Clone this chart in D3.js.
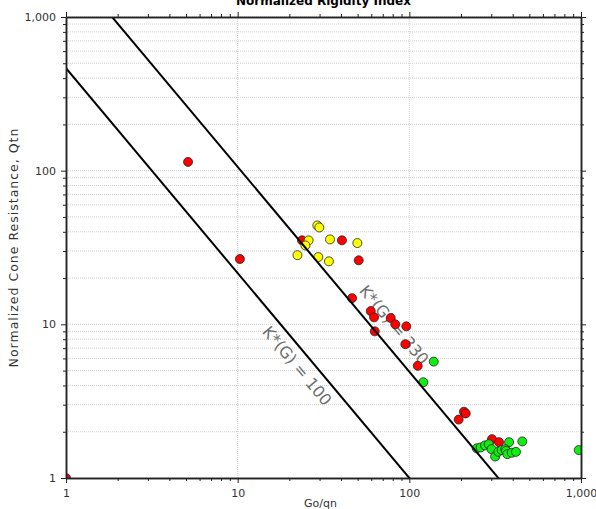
<!DOCTYPE html>
<html>
<head>
<meta charset="utf-8">
<script src="https://cdn.jsdelivr.net/npm/d3@7"></script>
<style>
  body { margin: 0; background: #fff; }
  svg { display: block; font-family: "DejaVu Sans", Verdana, sans-serif; }
</style>
</head>
<body>
<div id="chart"></div>
<script>
// values (Go/qn, Qtn)
const redX = [5.14, 10.3, 1.0, 23.7, 40.5, 50.7, 46.4, 59.6, 62.3, 77.9, 82.8, 96.0, 62.9, 94.8, 111.9, 208, 213, 193.8, 303, 333];
const redY = [114, 26.6, 1.0, 35.2, 35.2, 26.1, 14.8, 12.2, 11.1, 11.0, 10.0, 9.7, 9.0, 7.43, 5.37, 2.7, 2.63, 2.40, 1.79, 1.71];
const yellowX = [29.1, 29.9, 25.9, 24.8, 34.5, 49.8, 22.3, 29.5, 34.0];
const yellowY = [44.0, 42.7, 35.2, 32.6, 35.7, 33.8, 28.2, 27.4, 25.7];
const greenX = [138.7, 120.6, 381, 455, 970, 247, 260, 276, 290, 301, 316, 330, 345, 362, 366, 372, 395, 418];
const greenY = [5.72, 4.2, 1.71, 1.73, 1.52, 1.56, 1.58, 1.63, 1.66, 1.54, 1.38, 1.48, 1.52, 1.54, 1.50, 1.43, 1.46, 1.48];

// K*(G) = (Go/qn) * Qtn^0.75
const kValues = [100, 330];
const kLabelX = [22.2, 81.4];
const kLabelY = [5.37, 9.93];

const majorTicks = [1, 10, 100, 1000];

const width = 596, height = 509;
const mLeft = 66, mRight = 581, mTop = 17, mBottom = 478;

const svg = d3.select('#chart').append('svg')
  .attr('width', width)
  .attr('height', height);

const x = d3.scaleLog().domain([1, 1000]).range([mLeft, mRight]);
const y = d3.scaleLog().domain([1, 1000]).range([mBottom, mTop]);
const fmt = d3.format(',');
const minorTicks = y.ticks().filter(d => majorTicks.indexOf(d) < 0);

svg.append('defs').append('clipPath').attr('id', 'plot')
  .append('rect')
  .attr('x', mLeft).attr('y', mTop)
  .attr('width', mRight - mLeft).attr('height', mBottom - mTop);

// grid: horizontal at every tick, vertical only at decades
svg.append('g').selectAll('line')
  .data(y.ticks())
  .enter().append('line')
  .attr('x1', mLeft).attr('x2', mRight)
  .attr('y1', d => y(d)).attr('y2', d => y(d))
  .attr('stroke', '#d0d0d0')
  .attr('stroke-dasharray', '1,1');

svg.append('g').selectAll('line')
  .data(majorTicks.slice(1, -1))
  .enter().append('line')
  .attr('x1', d => x(d)).attr('x2', d => x(d))
  .attr('y1', mTop).attr('y2', mBottom)
  .attr('stroke', '#d0d0d0')
  .attr('stroke-dasharray', '1,1');

// line labels
const slope = (4 / 3) * (y(1) - y(10)) / (x(10) - x(1));
const angle = Math.atan(slope) * 180 / Math.PI;
svg.append('g').selectAll('text')
  .data(kValues)
  .enter().append('text')
  .attr('transform', (d, i) => `translate(${x(kLabelX[i])},${y(kLabelY[i])}) rotate(${angle})`)
  .attr('text-anchor', 'middle')
  .attr('dy', '0.35em')
  .style('font-size', '16px')
  .style('fill', '#6e6e6e')
  .text(d => `K*(G) = ${d}`);

// points
const pts = svg.append('g').attr('clip-path', 'url(#plot)');
function drawPoints(xs, ys, colour) {
  pts.append('g').selectAll('circle')
    .data(xs)
    .enter().append('circle')
    .attr('cx', d => x(d))
    .attr('cy', (d, i) => y(ys[i]))
    .attr('r', 4.5)
    .attr('fill', colour)
    .attr('stroke', '#222')
    .attr('stroke-width', 0.8);
}
drawPoints(redX, redY, '#ff0000');
drawPoints(yellowX, yellowY, '#ffff00');
drawPoints(greenX, greenY, '#11ee11');

// K*(G) lines
const line = d3.line().x(d => x(d[0])).y(d => y(d[1]));
svg.append('g').attr('clip-path', 'url(#plot)')
  .selectAll('path')
  .data(kValues)
  .enter().append('path')
  .attr('d', k => line([1, 1000].map(g => [g, Math.pow(k / g, 4 / 3)])))
  .attr('fill', 'none')
  .attr('stroke', '#000')
  .attr('stroke-width', 2);

// axes
function styleAxis(g) {
  g.select('.domain').attr('stroke', '#222').attr('stroke-width', 1.5);
  g.selectAll('.tick line').attr('stroke', '#222');
  g.selectAll('.tick text').style('font-size', '11px').style('fill', '#333')
    .style('font-family', '"DejaVu Sans", Verdana, sans-serif');
}

svg.append('g').attr('transform', `translate(${mLeft},0)`)
  .call(d3.axisLeft(y).tickValues(majorTicks).tickFormat(fmt).tickSize(5).tickPadding(5).tickSizeOuter(0))
  .call(styleAxis);
svg.append('g').attr('transform', `translate(${mLeft},0)`)
  .call(d3.axisLeft(y).tickValues(minorTicks).tickFormat('').tickSize(3).tickSizeOuter(0))
  .call(styleAxis);

svg.append('g').attr('transform', `translate(${mRight},0)`)
  .call(d3.axisRight(y).tickValues(majorTicks).tickFormat('').tickSize(5).tickSizeOuter(0))
  .call(styleAxis);
svg.append('g').attr('transform', `translate(${mRight},0)`)
  .call(d3.axisRight(y).tickValues(minorTicks).tickFormat('').tickSize(3).tickSizeOuter(0))
  .call(styleAxis);

svg.append('g').attr('transform', `translate(0,${mBottom})`)
  .call(d3.axisBottom(x).tickValues(majorTicks).tickFormat(fmt).tickSize(5).tickPadding(6).tickSizeOuter(0))
  .call(styleAxis);
svg.append('g').attr('transform', `translate(0,${mBottom})`)
  .call(d3.axisBottom(x).tickValues(minorTicks).tickFormat('').tickSize(3).tickSizeOuter(0))
  .call(styleAxis);

svg.append('g').attr('transform', `translate(0,${mTop})`)
  .call(d3.axisTop(x).tickValues(majorTicks).tickFormat('').tickSize(5).tickSizeOuter(0))
  .call(styleAxis);
svg.append('g').attr('transform', `translate(0,${mTop})`)
  .call(d3.axisTop(x).tickValues(minorTicks).tickFormat('').tickSize(3).tickSizeOuter(0))
  .call(styleAxis);

// titles (the reference crops both at the edges)
svg.append('text')
  .attr('x', (mLeft + mRight) / 2)
  .attr('y', 5)
  .attr('text-anchor', 'middle')
  .style('font-size', '12px')
  .style('font-weight', 'bold')
  .text('Normalized Rigidity Index');

svg.append('text')
  .attr('x', (mLeft + mRight) / 2 - 3)
  .attr('y', 507)
  .attr('text-anchor', 'middle')
  .style('font-size', '11px')
  .style('fill', '#333')
  .text('Go/qn');

svg.append('text')
  .attr('transform', `translate(18,${(mTop + mBottom) / 2}) rotate(-90)`)
  .attr('text-anchor', 'middle')
  .style('font-size', '12.5px')
  .style('letter-spacing', '1px')
  .style('fill', '#333')
  .text('Normalized Cone Resistance, Qtn');
</script>
</body>
</html>
